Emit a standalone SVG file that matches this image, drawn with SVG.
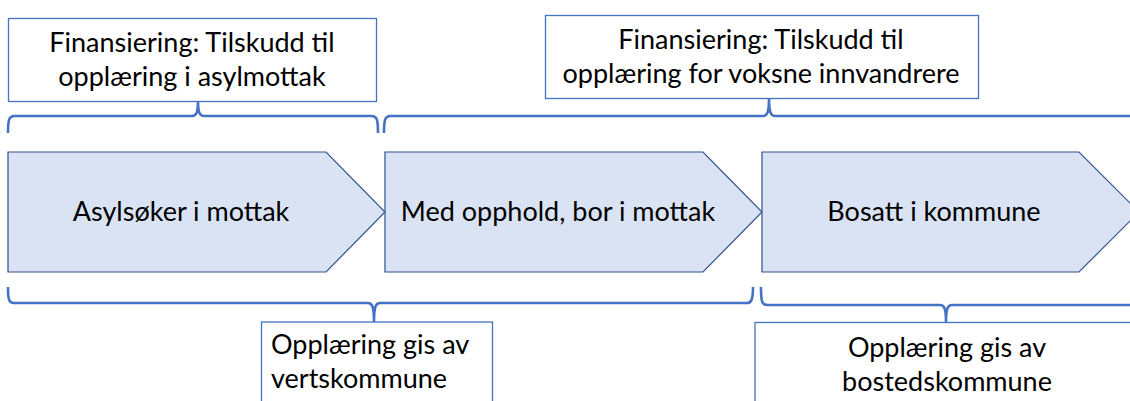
<svg xmlns="http://www.w3.org/2000/svg" width="1130" height="401" viewBox="0 0 1130 401">
  <style>
    text { font-family: Lato, "Open Sans", "Liberation Sans", sans-serif; font-size: 27px; fill: #000; }
    .mid { text-anchor: middle; }
    .box { fill: #fff; stroke: #4472c4; stroke-width: 1.3; }
    .stage { fill: #dae3f3; stroke: #2f528f; stroke-width: 1.2; stroke-linejoin: miter; }
    .brace { fill: none; stroke: #4472c4; stroke-width: 2.6; stroke-linejoin: round; }
  </style>
  <rect width="1130" height="401" fill="#fff"/>

  <!-- braces grouping the stages -->
  <g id="connectors">
    <path class="brace" d="M8,133 C8,120 9,116 14,116 L192,116 C196,116 198,113 198,101 C198,113 200,116 204,116 L372,116 C377,116 378,120 378,133"/>
    <path class="brace" d="M384,133 C384,120 385,116 390,116 L763,116 C767,116 769,113 769,98 C769,113 771,116 775,116 L1135,116"/>
    <path class="brace" d="M8,287 C8,300 9,303 14,303 L368,303 C372,303 374,306 374,322 C374,306 376,303 380,303 L747,303 C751,303 753,300 753,287"/>
    <path class="brace" d="M761,287 C761,302 762,305 767,305 L940,305 C944,305 946,308 946,322 C946,308 948,305 952,305 L1135,305"/>
  </g>

  <!-- funding boxes -->
  <g id="fin-asylmottak">
    <rect class="box" x="8.5" y="18.5" width="368" height="83"/>
    <text class="mid" x="192" y="52">Finansiering: Tilskudd til</text>
    <text class="mid" x="192" y="86">opplæring i asylmottak</text>
  </g>
  <g id="fin-innvandrere">
    <rect class="box" x="545.5" y="15.5" width="433" height="83"/>
    <text class="mid" x="761" y="49">Finansiering: Tilskudd til</text>
    <text class="mid" x="761" y="83">opplæring for voksne innvandrere</text>
  </g>

  <!-- stages -->
  <g id="stage-asylsoker">
    <polygon class="stage" points="8,152 326,152 385,212 326,272 8,272"/>
    <text class="mid" x="181" y="221">Asylsøker i mottak</text>
  </g>
  <g id="stage-opphold">
    <polygon class="stage" points="385,152 703,152 762,212 703,272 385,272"/>
    <text class="mid" x="558" y="221">Med opphold, bor i mottak</text>
  </g>
  <g id="stage-bosatt">
    <polygon class="stage" points="762,152 1079,152 1139,212 1079,272 762,272"/>
    <text class="mid" x="934" y="221">Bosatt i kommune</text>
  </g>

  <!-- provider boxes -->
  <g id="vertskommune">
    <rect class="box" x="261.5" y="322" width="231" height="100"/>
    <text x="271" y="354">Opplæring gis av</text>
    <text x="271" y="388">vertskommune</text>
  </g>
  <g id="bostedskommune">
    <rect class="box" x="755" y="322.5" width="400" height="100"/>
    <text class="mid" x="947" y="357">Opplæring gis av</text>
    <text class="mid" x="947" y="391">bostedskommune</text>
  </g>
</svg>
